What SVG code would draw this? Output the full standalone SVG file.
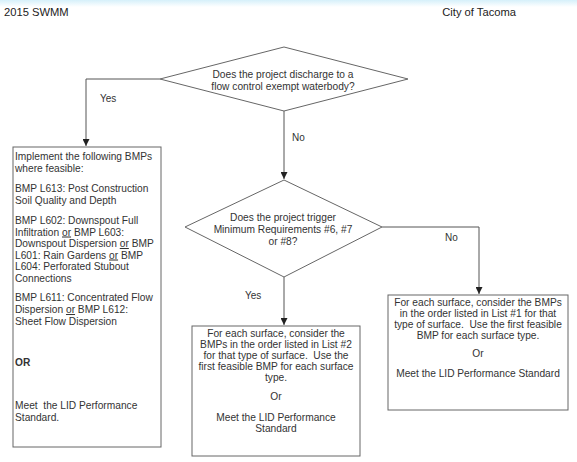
<svg xmlns="http://www.w3.org/2000/svg" width="577" height="462" viewBox="0 0 577 462">
<defs>
<linearGradient id="band" x1="0" y1="0" x2="0" y2="1">
<stop offset="0" stop-color="#d6f0fa"/>
<stop offset="1" stop-color="#ffffff"/>
</linearGradient>
<marker id="arr" viewBox="0 0 10 10" refX="10" refY="5" markerWidth="7" markerHeight="7" orient="auto" markerUnits="userSpaceOnUse">
<path d="M0,0 L10,5 L0,10 z" fill="#222"/>
</marker>
<style>
text{font-family:"Liberation Sans",Arial,sans-serif;font-size:10.2px;fill:#333;white-space:pre}
.hdr{font-size:11.2px;fill:#222}
.shape{fill:#fff;stroke:#666;stroke-width:1}
.line{fill:none;stroke:#555;stroke-width:1}
.c{text-anchor:middle}
.lbl{font-size:10px}
</style>
</defs>
<rect x="0" y="0" width="577" height="7" fill="url(#band)"/>
<text class="hdr" x="4" y="16">2015 SWMM</text>
<text class="hdr" x="516" y="16" text-anchor="end">City of Tacoma</text>

<g id="connectors">
<path class="line" d="M160,79 H86 V146" marker-end="url(#arr)"/>
<path class="line" d="M284,111 V179" marker-end="url(#arr)"/>
<path class="line" d="M382,227 H479 V294" marker-end="url(#arr)"/>
<path class="line" d="M284,277 V325" marker-end="url(#arr)"/>
<text class="lbl" x="100" y="102">Yes</text>
<text class="lbl" x="292" y="141">No</text>
<text class="lbl" x="445" y="241">No</text>
<text class="lbl" x="245" y="299">Yes</text>
</g>

<g id="q1">
<polygon class="shape" points="284,47 408,79 284,111 160,79"/>
<text class="c" x="283" y="78">Does the project discharge to a</text>
<text class="c" x="283" y="89.5">flow control exempt waterbody?</text>
</g>

<g id="q2">
<polygon class="shape" points="284,180 382,227 284,277 185,227"/>
<text class="c" x="283" y="221">Does the project trigger</text>
<text class="c" x="283" y="233">Minimum Requirements #6, #7</text>
<text class="c" x="283" y="245">or #8?</text>
</g>

<g id="box-left">
<rect class="shape" x="13" y="147" width="148" height="300"/>
<text x="15" y="160">Implement the following BMPs</text>
<text x="15" y="172">where feasible:</text>
<text x="15" y="192">BMP L613: Post Construction</text>
<text x="15" y="204">Soil Quality and Depth</text>
<text x="15" y="224">BMP L602: Downspout Full</text>
<text x="15" y="235.5">Infiltration <tspan text-decoration="underline">or</tspan> BMP L603:</text>
<text x="15" y="247">Downspout Dispersion <tspan text-decoration="underline">or</tspan> BMP</text>
<text x="15" y="258.5">L601: Rain Gardens <tspan text-decoration="underline">or</tspan> BMP</text>
<text x="15" y="270">L604: Perforated Stubout</text>
<text x="15" y="281.5">Connections</text>
<text x="15" y="301">BMP L611: Concentrated Flow</text>
<text x="15" y="313">Dispersion <tspan text-decoration="underline">or</tspan> BMP L612:</text>
<text x="15" y="324.5">Sheet Flow Dispersion</text>
<text x="15" y="366" font-weight="bold">OR</text>
<text x="15" y="409" xml:space="preserve">Meet  the LID Performance</text>
<text x="15" y="420.5">Standard.</text>
</g>

<g id="box-center">
<rect class="shape" x="192" y="326" width="168" height="130"/>
<text class="c" x="276" y="337">For each surface, consider the</text>
<text class="c" x="276" y="348">BMPs in the order listed in List #2</text>
<text class="c" x="276" y="359" xml:space="preserve">for that type of surface.  Use the</text>
<text class="c" x="276" y="370">first feasible BMP for each surface</text>
<text class="c" x="276" y="381">type.</text>
<text class="c" x="276" y="400">Or</text>
<text class="c" x="276" y="421">Meet the LID Performance</text>
<text class="c" x="276" y="432">Standard</text>
</g>

<g id="box-right">
<rect class="shape" x="388" y="295" width="180" height="115"/>
<text class="c" x="478" y="306">For each surface, consider the BMPs</text>
<text class="c" x="478" y="317">in the order listed in List #1 for that</text>
<text class="c" x="478" y="328" xml:space="preserve">type of surface.  Use the first feasible</text>
<text class="c" x="478" y="339">BMP for each surface type.</text>
<text class="c" x="478" y="357">Or</text>
<text class="c" x="478" y="377">Meet the LID Performance Standard</text>
</g>
</svg>
